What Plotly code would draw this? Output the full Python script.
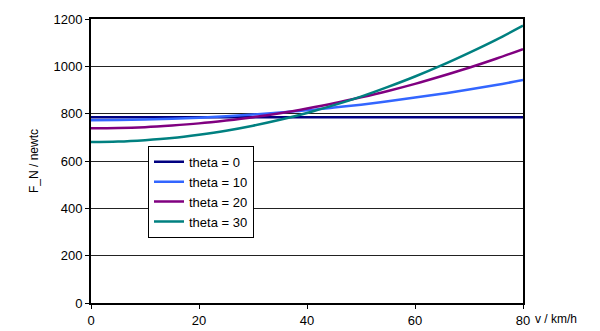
import plotly.graph_objects as go

v = [0, 5, 10, 15, 20, 25, 30, 35, 40, 45, 50, 55, 60, 65, 70, 75, 80]
theta0 = [785] * 17
theta10 = [772, 773, 775, 778, 783, 789, 796, 805, 814, 826, 838, 852, 868, 884, 902, 921, 942]
theta20 = [738, 739, 743, 750, 759, 771, 785, 802, 822, 844, 869, 896, 926, 959, 994, 1032, 1073]
theta30 = [680, 682, 688, 697, 711, 728, 749, 774, 803, 836, 872, 913, 957, 1005, 1057, 1112, 1172]

series = [
    ("theta = 0", theta0, "#000080"),
    ("theta = 10", theta10, "#3366FF"),
    ("theta = 20", theta20, "#800080"),
    ("theta = 30", theta30, "#008080"),
]

fig = go.Figure()
for name, ys, col in series:
    fig.add_trace(go.Scatter(x=v, y=ys, name=name, mode="lines",
                             line=dict(color=col, width=2.5, shape="spline")))

font = dict(family="Liberation Sans, Arial, sans-serif", color="black")

L, R, T, B = 83, 85, 4, 36
PW = 600 - L - R
PH = 331 - T - B

fig.update_layout(
    width=600, height=331,
    margin=dict(l=L, r=R, t=T, b=B),
    paper_bgcolor="white", plot_bgcolor="white",
    font=dict(size=12, **font),
    showlegend=True,
    legend=dict(x=(148 - 91) / PW, y=(303 - 142) / PH, xanchor="left", yanchor="top",
                bgcolor="white", bordercolor="black", borderwidth=1,
                font=dict(size=13, **font), tracegroupgap=0,
                itemwidth=30),
    xaxis=dict(range=[0, 80], tickvals=[0, 20, 40, 60, 80], showgrid=False,
               showline=True, linecolor="black", linewidth=2, mirror=True,
               ticks="outside", ticklen=4, tickcolor="black", zeroline=False,
               tickfont=dict(size=13, **font)),
    yaxis=dict(range=[0, 1200], tickvals=[0, 200, 400, 600, 800, 1000, 1200],
               showgrid=True, gridcolor="#222222", gridwidth=1,
               showline=True, linecolor="black", linewidth=2, mirror=True,
               ticks="outside", ticklen=4, tickcolor="black", zeroline=False,
               ticklabeloverflow="allow",
               tickfont=dict(size=13, **font)),
    annotations=[
        dict(text="F_N / newtc", xref="paper", yref="paper",
             x=(25 - 91) / PW, y=0.5, textangle=-90, showarrow=False,
             font=dict(size=12, **font)),
        dict(text="v / km/h", xref="paper", yref="paper", xanchor="left",
             x=(533 - 91) / PW, y=-26 / PH, showarrow=False,
             font=dict(size=12, **font)),
    ],
)

fig.write_html("out.html")
